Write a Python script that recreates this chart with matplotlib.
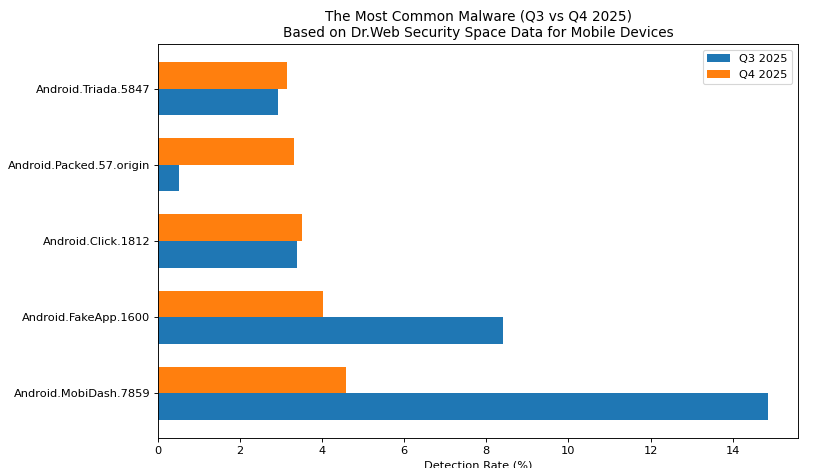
import numpy as np
import matplotlib
matplotlib.use("Agg")
import matplotlib.pyplot as plt

# Dados
malware = ["Android.MobiDash.7859", "Android.FakeApp.1600", "Android.Click.1812",
           "Android.Packed.57.origin", "Android.Triada.5847"]
q3_2025 = [14.85, 8.41, 3.39, 0.51, 2.93]
q4_2025 = [4.59, 4.02, 3.51, 3.32, 3.15]

y = np.arange(len(malware))
h = 0.35

# a referência parece ter sido renderizada maior e reduzida: dpi 82
dpi = 82
fig = plt.figure(figsize=(826 / dpi, 468 / dpi), dpi=dpi)
ax = fig.add_axes([0.1913, 0.0641, 0.7748, 0.842])

ax.barh(y - h / 2, q3_2025, h, label="Q3 2025", color="#1f77b4")
ax.barh(y + h / 2, q4_2025, h, label="Q4 2025", color="#ff7f0e")

ax.set_yticks(y)
ax.set_yticklabels(malware)
ax.set_xlabel("Detection Rate (%)")
ax.set_title("The Most Common Malware (Q3 vs Q4 2025)\n"
             "Based on Dr.Web Security Space Data for Mobile Devices")
ax.legend(loc="upper right")

fig.savefig("out.png", dpi=dpi)
